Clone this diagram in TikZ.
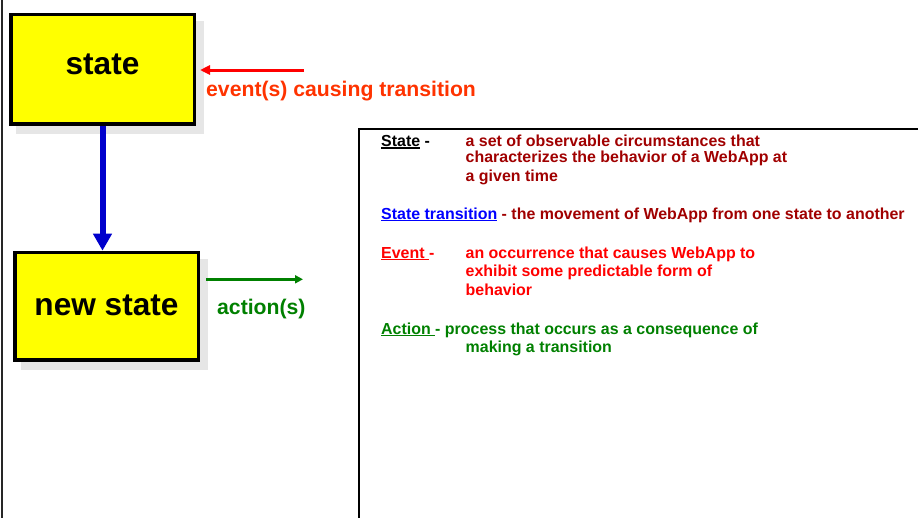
\documentclass[tikz,border=0pt]{standalone}
\usepackage{fontspec}
\setmainfont{Liberation Sans}
\usetikzlibrary{arrows.meta,backgrounds}

\definecolor{boxyellow}{RGB}{255,255,0}
\definecolor{shadowgray}{RGB}{230,230,230}
\definecolor{defred}{RGB}{160,0,0}
\definecolor{evred}{RGB}{255,0,0}
\definecolor{evlabel}{RGB}{255,51,0}
\definecolor{actgreen}{RGB}{0,128,0}
\definecolor{trblue}{RGB}{0,0,204}
\definecolor{linkblue}{RGB}{0,0,255}

% underline drawn as a rule under the measured text
\newcommand{\undl}[1]{\setbox0\hbox{#1}\rlap{\rule[-1.8pt]{\wd0}{1.3pt}}\box0\relax}

\begin{document}
\begin{tikzpicture}[x=1pt,y=-1pt,
  statebox/.style={draw=black, line width=3.5pt, fill=boxyellow,
    font=\fontsize{31.6}{36}\selectfont\bfseries, inner sep=0pt,
    minimum width=183.5pt, text height=22pt},
  boxshadow/.style={fill=shadowgray},
  deftext/.style={anchor=base west, inner sep=0pt,
    font=\fontsize{15.95}{19}\selectfont\bfseries},
  arrowtext/.style={anchor=base west, inner sep=0pt,
    font=\fontsize{21.2}{25}\selectfont\bfseries},
  evarrow/.style={draw=evred, line width=3pt, -{Triangle[length=10pt,width=9pt]}},
  trarrow/.style={draw=trblue, line width=6pt, -{Triangle[length=17pt,width=18pt]}},
  actarrow/.style={draw=actgreen, line width=2.8pt, -{Triangle[length=8pt,width=8pt]}}
]
\useasboundingbox (0,0) rectangle (918,517);
\clip (0,0) rectangle (918,517);

% page rule on the left
\draw[line width=2pt, black!85] (1.5,-5) -- (1.5,525);

% state boxes
\node[statebox, minimum height=109.3pt, text depth=12pt] (st) at (102.5,69.1) {state};
\node[statebox, minimum height=107.5pt, text depth=4.4pt] (ns) at (106.5,306.2) {new state};

\begin{scope}[on background layer]
  \fill[boxshadow] ([shift={(7,8)}]st.north west) rectangle ([shift={(8,8.5)}]st.south east);
  \fill[boxshadow] ([shift={(8,8)}]ns.north west) rectangle ([shift={(8,8)}]ns.south east);
\end{scope}

% transition
\draw[trarrow] (st.south) -- (st.south |- ns.north);

% incoming event
\coordinate (evs) at (304,70);
\draw[evarrow, shorten >=4pt] (evs) -- (evs -| st.east);
\node[arrowtext, text=evlabel] (evlab) at (206,96.7) {event(s) causing transition};

% outgoing action
\coordinate (acte) at (303,279.3);
\draw[actarrow, shorten <=6pt] (acte -| ns.east) -- (acte);
\node[arrowtext, text=actgreen] (actlab) at (217,314) {action(s)};

% definitions frame
\node[draw=black, line width=2pt, anchor=north west, minimum width=700pt,
  minimum height=500pt, inner sep=0pt] (defbox) at (358.3,128.3) {};

\node[deftext, text=black] (dstate) at (381,146.7) {\undl{State} -};
\node[deftext, text=defred] (dstate1) at (465.5,146.7) {a set of observable circumstances that};
\node[deftext, text=defred] (dstate2) at (465.5,162.7) {characterizes the behavior of a WebApp at};
\node[deftext, text=defred] (dstate3) at (465.5,181.7) {a given time};

\node[deftext, text=defred] (dtrans) at (381,219.5)
  {\textcolor{linkblue}{\undl{State transition}} - the movement of WebApp from one state to another};

\node[deftext, text=evred] (devent) at (381,258.3) {\undl{Event\ }-};
\node[deftext, text=evred] (devent1) at (465.5,258.3) {an occurrence that causes WebApp to};
\node[deftext, text=evred] (devent2) at (465.5,276.7) {exhibit some predictable form of};
\node[deftext, text=evred] (devent3) at (465.5,295.7) {behavior};

\node[deftext, text=actgreen] (dact) at (381,334) {\undl{Action\ }- process that occurs as a consequence of};
\node[deftext, text=actgreen] (dact1) at (465.5,352.7) {making a transition};
\end{tikzpicture}
\end{document}
